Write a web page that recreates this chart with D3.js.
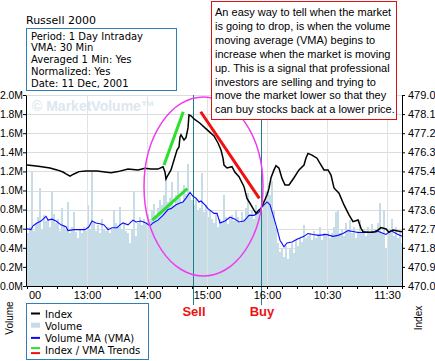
<!DOCTYPE html>
<html>
<head>
<meta charset="utf-8">
<script src="https://cdn.jsdelivr.net/npm/d3@7"></script>
<style>
  body { margin: 0; background: #fff; }
  svg { display: block; }
</style>
</head>
<body>
<div id="chart"></div>
<script>
// x axis is trading minutes counted from 12:00 (overnight gap removed)
// the first label is cut to "00" in the original chart
var xTickMinutes = [0, 60, 120, 180, 240, 300, 360];
var xTickLabels = ["00", "13:00", "14:00", "15:00", "16:00", "10:30", "11:30"];

var volTicks = [0, 0.2, 0.4, 0.6, 0.8, 1.0, 1.2, 1.4, 1.6, 1.8, 2.0];
var volTickLabels = ["0.0M", "0.2M", "0.4M", "0.6M", "0.8M", "1.0M", "1.2M", "1.4M", "1.6M", "1.8M", "2.0M"];
var indexTicks = [470.0, 470.9, 471.8, 472.7, 473.6, 474.5, 475.4, 476.3, 477.2, 478.1, 479.0];

// volume in millions, one bar per 2 minutes starting at minute 0
var volume = [
  0.55, 0.62, 1.20, 0.58, 0.66, 0.72, 1.03, 0.60, 0.74, 0.68,
  0.70, 0.62, 1.00, 0.75, 0.66, 0.70, 0.58, 0.82, 0.64, 0.60,
  0.88, 0.55, 0.62, 0.78, 0.57, 0.50, 0.60, 0.55, 0.62, 0.58,
  0.85, 0.60, 1.19, 0.66, 0.58, 0.64, 0.55, 0.70, 0.60, 0.58,
  0.62, 0.55, 0.60, 0.80, 0.66, 0.62, 0.83, 0.60, 0.65, 0.58,
  0.55, 0.45, 0.60, 0.99, 0.52, 0.66, 0.72, 0.64, 0.70, 0.66,
  0.75, 0.70, 0.80, 0.86, 0.72, 0.82, 0.90, 0.85, 0.95, 1.14,
  0.88, 0.92, 1.09, 0.85, 0.95, 1.20, 0.92, 0.88, 1.06, 0.96,
  1.28, 0.95, 0.90, 0.85, 0.92, 0.80, 0.82, 1.18, 0.78, 0.85,
  0.72, 0.80, 0.70, 0.66, 0.75, 0.62, 0.70, 0.68, 0.95, 0.72,
  0.65, 0.70, 0.74, 0.68, 0.80, 0.72, 0.66, 0.78, 0.70, 0.82,
  0.97, 0.75, 0.80, 0.70, 0.85, 0.78, 0.72, 0.80, 0.90, 1.00,
  1.08, 0.95, 1.10, 0.80, 0.62, 0.45, 0.36, 0.40, 0.30, 0.42,
  0.28, 0.40, 0.45, 0.35, 0.48, 0.42, 0.50, 0.46, 0.64, 0.50,
  0.52, 0.55, 0.48, 0.58, 0.50, 0.54, 0.62, 0.48, 0.56, 0.52,
  0.58, 0.50, 0.55, 0.62, 0.78, 0.80, 0.55, 0.60, 0.52, 0.66,
  0.58, 0.69, 0.55, 0.62, 0.50, 0.58, 0.69, 0.55, 0.60, 0.52,
  0.62, 0.56, 0.65, 0.58, 0.60, 0.66, 0.87, 0.55, 0.80, 0.40,
  0.55, 0.60, 0.70, 0.52, 0.62, 0.50, 0.58, 0.45
];

var indexMinutes = [0, 7, 13, 23, 30, 36, 39, 43, 47, 52, 59, 70, 84, 91, 101, 111, 118, 124, 131, 136,
  138, 139, 141, 144, 148, 150, 152, 153, 154, 157, 159, 161, 162, 164, 167, 173, 178, 183, 187, 191,
  194, 196, 197, 200, 205, 208, 212, 217, 220, 223, 227, 229, 232, 234, 237, 240, 242, 244, 247, 249,
  252, 255, 258, 262, 267, 272, 277, 279, 281, 285, 290, 293, 297, 301, 304, 307, 312, 317, 322, 326,
  331, 334, 336, 342, 349, 354, 359, 362, 366, 371, 375];
var indexValues = [475.70, 475.67, 475.63, 475.56, 475.47, 475.37, 475.28, 475.18, 475.28, 475.39, 475.42, 475.42, 475.34, 475.39, 475.51, 475.47, 475.55, 475.51, 475.51, 475.62,
  475.37, 475.04, 475.23, 475.47, 476.09, 476.41, 476.55, 477.02, 477.12, 476.88, 476.99, 477.45, 478.06, 478.02, 477.87, 477.67, 477.45, 477.24, 477.07, 476.74,
  476.41, 476.03, 475.70, 475.56, 475.62, 475.36, 475.15, 474.68, 474.13, 473.90, 473.58, 473.43, 473.58, 473.66, 473.97, 474.29, 474.60, 475.10, 475.47, 475.67,
  475.55, 475.07, 474.76, 474.76, 475.10, 475.47, 475.70, 476.03, 476.25, 476.17, 476.02, 475.78, 475.47, 475.47, 475.23, 474.62, 474.37, 473.82, 473.35, 473.03,
  473.11, 472.72, 472.56, 472.53, 472.56, 472.75, 472.69, 472.53, 472.64, 472.59, 472.56];

var vmaMinutes = [0, 4, 6, 10, 14, 19, 21, 25, 29, 34, 39, 41, 47, 52, 58, 62, 65, 69, 74, 77,
  81, 85, 90, 93, 96, 101, 106, 109, 114, 119, 123, 126, 131, 136, 141, 144, 149, 153, 156, 159,
  163, 166, 169, 172, 174, 178, 181, 187, 190, 193, 198, 203, 208, 212, 217, 222, 227, 232, 235, 240,
  243, 247, 250, 253, 257, 260, 265, 270, 277, 281, 286, 292, 299, 306, 311, 316, 321, 326, 331, 336,
  341, 346, 349, 354, 359, 364, 369, 375];
var vmaValues = [0.60, 0.59, 0.63, 0.66, 0.68, 0.73, 0.69, 0.70, 0.68, 0.64, 0.62, 0.58, 0.59, 0.59, 0.59, 0.62, 0.68, 0.66, 0.65, 0.64,
  0.59, 0.61, 0.61, 0.64, 0.66, 0.64, 0.69, 0.67, 0.68, 0.66, 0.63, 0.66, 0.69, 0.74, 0.80, 0.81, 0.85, 0.87, 0.88, 0.92,
  0.98, 0.94, 0.92, 0.88, 0.89, 0.85, 0.81, 0.76, 0.76, 0.66, 0.68, 0.72, 0.70, 0.67, 0.68, 0.74, 0.74, 0.77, 0.83, 0.88,
  0.85, 0.71, 0.60, 0.48, 0.41, 0.45, 0.46, 0.49, 0.52, 0.55, 0.54, 0.53, 0.54, 0.52, 0.53, 0.55, 0.58, 0.57, 0.56, 0.56,
  0.56, 0.56, 0.58, 0.56, 0.54, 0.58, 0.55, 0.52];

var sellMinute = 166.5, buyMinute = 234.5;

// hand-drawn annotations, in data units
var greenIndexTrend = [[137, 475.70], [156.3, 478.21]];
var greenVmaTrend = [[125.3, 0.69], [160.3, 1.02]];
var redIndexTrend = [[173.7, 478.21], [232.3, 474.13]];
var circleMinutes = [117, 236], circleIndex = [470.47, 478.91];

var infoLines = ["Period: 1 Day Intraday", "VMA: 30 Min", "Averaged 1 Min: Yes", "Normalized: Yes", "Date: 11 Dec, 2001"];
var noteLines = ["An easy way to tell when the market",
  "is going to drop, is when the volume",
  "moving average (VMA) begins to",
  "increase when the market is moving",
  "up. This is a signal that professional",
  "investors are selling and trying to",
  "move the market lower so that they",
  "can buy stocks back at a lower price."];
var legendItems = ["Index", "Volume", "Volume MA (VMA)", "Index / VMA Trends"];

(function() {
  var width = 435, height = 361;
  var left = 26, right = 402, top = 95, bottom = 286;
  var arial = "Arial, 'Liberation Sans', sans-serif";
  var dejavu = "'DejaVu Sans', Verdana, sans-serif";

  var svg = d3.select("#chart").append("svg")
    .attr("width", width)
    .attr("height", height)
    .style("font-family", arial);

  var x = d3.scaleLinear().domain([-1, 375]).range([left, right]);
  var yVol = d3.scaleLinear().domain([0, 2]).range([bottom, top]);
  var yIdx = d3.scaleLinear().domain([470, 479]).range([bottom, top]);

  // horizontal grid
  svg.append("g").selectAll("line")
    .data(volTicks)
    .enter().append("line")
    .attr("x1", left).attr("x2", right)
    .attr("y1", function(d) { return Math.round(yVol(d)) + 0.5; })
    .attr("y2", function(d) { return Math.round(yVol(d)) + 0.5; })
    .attr("stroke", "#dcdcdc");

  // watermark
  svg.append("text")
    .attr("x", 32).attr("y", 111)
    .attr("font-size", 14).attr("font-weight", "bold")
    .attr("fill", "#dde7f0")
    .text("\u00a9 MarketVolume\u2122");

  // volume bars
  svg.append("g").selectAll("rect")
    .data(volume)
    .enter().append("rect")
    .attr("x", function(d, i) { return x(i * 2); })
    .attr("width", function(d, i) { return x(i * 2 + 2) - x(i * 2); })
    .attr("y", function(d) { return yVol(d); })
    .attr("height", function(d) { return yVol(0) - yVol(d); })
    .attr("fill", "#c6dce6")
    .attr("shape-rendering", "crispEdges");

  // vertical grid on top of bars
  svg.append("g").selectAll("line")
    .data(xTickMinutes.slice(1))
    .enter().append("line")
    .attr("x1", function(d) { return Math.round(x(d)) + 0.5; })
    .attr("x2", function(d) { return Math.round(x(d)) + 0.5; })
    .attr("y1", top).attr("y2", bottom)
    .attr("stroke", "#e2e2e2");

  // sell / buy markers
  var signals = [{label: "Sell", m: sellMinute}, {label: "Buy", m: buyMinute}];
  svg.append("g").selectAll("line")
    .data(signals)
    .enter().append("line")
    .attr("x1", function(d) { return Math.floor(x(d.m)) + 0.5; })
    .attr("x2", function(d) { return Math.floor(x(d.m)) + 0.5; })
    .attr("y1", top).attr("y2", 305)
    .attr("stroke", "#1d8088");

  svg.append("g").selectAll("text")
    .data(signals)
    .enter().append("text")
    .attr("x", function(d) { return x(d.m) + 0.5; })
    .attr("y", 316)
    .attr("text-anchor", "middle")
    .attr("font-size", 13).attr("font-weight", "bold")
    .attr("fill", "#ee1111")
    .text(function(d) { return d.label; });

  // VMA line
  var vmaLine = d3.line()
    .x(function(d) { return x(d[0]); })
    .y(function(d) { return yVol(d[1]); });
  svg.append("path")
    .datum(vmaMinutes.map(function(m, i) { return [m, vmaValues[i]]; }))
    .attr("d", vmaLine)
    .attr("fill", "none")
    .attr("stroke", "#0a0aff")
    .attr("stroke-width", 1.1);

  // index line
  var idxLine = d3.line()
    .x(function(d) { return x(d[0]); })
    .y(function(d) { return yIdx(d[1]); });
  svg.append("path")
    .datum(indexMinutes.map(function(m, i) { return [m, indexValues[i]]; }))
    .attr("d", idxLine)
    .attr("fill", "none")
    .attr("stroke", "#000")
    .attr("stroke-width", 1.5);

  // ellipse around the signal
  svg.append("ellipse")
    .attr("cx", (x(circleMinutes[0]) + x(circleMinutes[1])) / 2)
    .attr("cy", (yIdx(circleIndex[0]) + yIdx(circleIndex[1])) / 2)
    .attr("rx", (x(circleMinutes[1]) - x(circleMinutes[0])) / 2)
    .attr("ry", (yIdx(circleIndex[0]) - yIdx(circleIndex[1])) / 2)
    .attr("fill", "none")
    .attr("stroke", "#f03cf0")
    .attr("stroke-width", 1.5);

  // trend strokes
  var trends = [
    {pts: greenIndexTrend, y: yIdx, c: "#2ee02e"},
    {pts: greenVmaTrend, y: yVol, c: "#2ee02e"},
    {pts: redIndexTrend, y: yIdx, c: "#f01010"}
  ];
  svg.append("g").selectAll("line")
    .data(trends)
    .enter().append("line")
    .attr("x1", function(d) { return x(d.pts[0][0]); })
    .attr("y1", function(d) { return d.y(d.pts[0][1]); })
    .attr("x2", function(d) { return x(d.pts[1][0]); })
    .attr("y2", function(d) { return d.y(d.pts[1][1]); })
    .attr("stroke", function(d) { return d.c; })
    .attr("stroke-width", 3);

  // axes
  var gl = svg.append("g")
    .attr("transform", "translate(" + left + ",0)")
    .call(d3.axisLeft(yVol).tickValues(volTicks)
      .tickFormat(function(d) { return volTickLabels[volTicks.indexOf(d)]; })
      .tickSize(3).tickSizeOuter(0).tickPadding(0));

  var gr = svg.append("g")
    .attr("transform", "translate(" + right + ",0)")
    .call(d3.axisRight(yIdx).tickValues(indexTicks)
      .tickFormat(d3.format(".1f"))
      .tickSize(3).tickSizeOuter(0).tickPadding(3));

  var gb = svg.append("g")
    .attr("transform", "translate(0," + bottom + ")")
    .call(d3.axisBottom(x).tickValues(xTickMinutes)
      .tickFormat(function(d) { return xTickLabels[xTickMinutes.indexOf(d)]; })
      .tickSize(3).tickSizeOuter(0).tickPadding(2));

  // the cut-off first label sits just right of the axis
  gb.selectAll(".tick text")
    .filter(function(d) { return d === xTickMinutes[0]; })
    .attr("text-anchor", "start")
    .attr("x", 1.5);

  // 15 minute minor ticks
  gb.selectAll(".minor")
    .data(d3.range(15, 376, 15))
    .enter().append("line")
    .attr("class", "minor")
    .attr("x1", function(d) { return Math.round(x(d)) + 0.5; })
    .attr("x2", function(d) { return Math.round(x(d)) + 0.5; })
    .attr("y1", 0).attr("y2", 3)
    .attr("stroke", "#000");

  [gl, gr, gb].forEach(function(g) {
    g.attr("font-family", arial).attr("font-size", 11);
    g.selectAll("text").attr("fill", "#000");
    g.selectAll("line, path").attr("stroke", "#000");
  });
  gl.attr("font-size", 10.4);

  // axis titles
  svg.append("text")
    .attr("transform", "translate(12.5,318) rotate(-90)")
    .attr("text-anchor", "middle")
    .attr("font-size", 10)
    .text("Volume");
  svg.append("text")
    .attr("transform", "translate(421.5,318) rotate(-90)")
    .attr("text-anchor", "middle")
    .attr("font-size", 10)
    .text("Index");

  // title + info box
  svg.append("text")
    .attr("x", 26).attr("y", 24)
    .attr("font-family", dejavu).attr("font-size", 11)
    .text("Russell 2000");

  svg.append("rect")
    .attr("x", 26.5).attr("y", 28.5).attr("width", 150).attr("height", 62)
    .attr("fill", "#fff").attr("stroke", "#2f7fb6");

  svg.append("g").selectAll("text")
    .data(infoLines)
    .enter().append("text")
    .attr("x", 31)
    .attr("y", function(d, i) { return 39.5 + i * 11.8; })
    .attr("font-family", dejavu).attr("font-size", 10)
    .text(function(d) { return d; });

  // note box
  svg.append("rect")
    .attr("x", 211.5).attr("y", 1.5).attr("width", 185).attr("height", 118)
    .attr("fill", "#fff").attr("stroke", "#dd1111");

  svg.append("g").selectAll("text")
    .data(noteLines)
    .enter().append("text")
    .attr("x", 215)
    .attr("y", function(d, i) { return 16 + i * 13.9; })
    .attr("font-size", 11)
    .text(function(d) { return d; });

  // legend
  svg.append("rect")
    .attr("x", 26.5).attr("y", 303.5).attr("width", 122).attr("height", 56)
    .attr("fill", "#fff").attr("stroke", "#2f7fb6");

  var lg = svg.append("g").selectAll("g")
    .data(legendItems)
    .enter().append("g")
    .attr("transform", function(d, i) { return "translate(0," + (317.5 + i * 12.2) + ")"; });

  lg.append("text")
    .attr("x", 45)
    .attr("font-family", dejavu).attr("font-size", 10)
    .text(function(d) { return d; });

  lg.each(function(d, i) {
    var g = d3.select(this);
    if (i === 0) {
      g.append("rect").attr("x", 31).attr("y", -5).attr("width", 9).attr("height", 2).attr("fill", "#000");
    } else if (i === 1) {
      g.append("rect").attr("x", 31).attr("y", -7).attr("width", 9).attr("height", 5).attr("fill", "#c6dce6");
    } else if (i === 2) {
      g.append("rect").attr("x", 31).attr("y", -5).attr("width", 9).attr("height", 2).attr("fill", "#0a0aff");
    } else {
      g.append("rect").attr("x", 31).attr("y", -7).attr("width", 9).attr("height", 2).attr("fill", "#2ee02e");
      g.append("rect").attr("x", 31).attr("y", -2).attr("width", 9).attr("height", 2).attr("fill", "#f01010");
    }
  });
})();
</script>
</body>
</html>
